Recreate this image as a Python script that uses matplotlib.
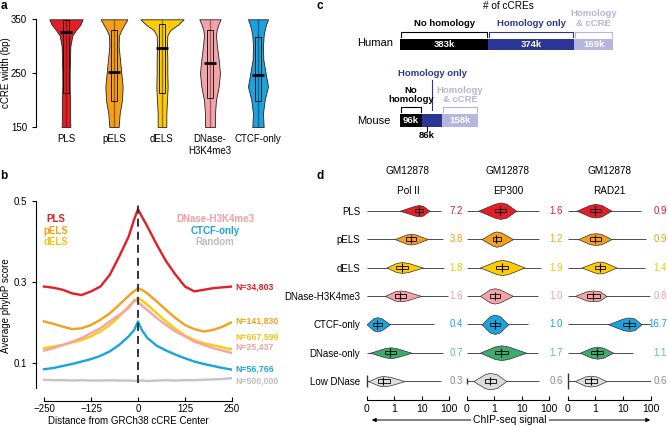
import matplotlib
matplotlib.use("Agg")
import matplotlib.pyplot as plt
from matplotlib.patches import FancyArrowPatch
from matplotlib.ticker import NullLocator
import numpy as np

plt.rcParams['font.family'] = ['Liberation Sans', 'DejaVu Sans']
plt.rcParams['font.size'] = 6.5

W, H = 668, 426

# ---------------- panel a : cCRE width violins ----------------
A_CATS = ['PLS', 'pELS', 'dELS', 'DNase-\nH3K4me3', 'CTCF-only']
A_COLORS = ['#e41e26', '#f6a01a', '#ffcb05', '#f4a3a8', '#1ba3df']
A_STEM = ['#8c1a1a', '#9c5a12', '#8c7a10', '#a06066', '#1e5e85']
A_LEVELS = [150, 175, 200, 225, 250, 275, 300, 320, 330, 340, 350]
# half widths (3x zoom pixels)
A_PLS = [13, 12, 12, 11, 11, 12, 13, 19, 30, 43, 50]
A_PELS = [14, 17, 24, 26, 22, 18, 14, 15, 22, 31, 40]
A_DELS = [13, 13, 15, 17, 16, 16, 15, 16, 25, 48, 65]
A_DNASE = [15, 15, 18, 26, 30, 26, 21, 18, 20, 25, 32]
A_CTCF = [17, 15, 20, 30, 23, 16, 15, 17, 20, 24, 30]
A_Q1 = [214, 198, 214, 204, 198]
A_Q3 = [348, 331, 341, 331, 318]
A_MED = [326, 253, 297, 269, 246]

# ---------------- panel b : phyloP profiles ----------------
B_POS = [-250, -225, -200, -175, -150, -125, -100, -75, -50, -25, -10, 0, 10,
         25, 50, 75, 100, 125, 150, 175, 200, 225, 250]
B_PLS = [0.289, 0.286, 0.281, 0.272, 0.268, 0.277, 0.289, 0.318, 0.363, 0.412, 0.455, 0.480,
         0.462, 0.437, 0.392, 0.351, 0.318, 0.289, 0.277, 0.281, 0.285, 0.287, 0.289]
B_PELS = [0.203, 0.197, 0.190, 0.184, 0.186, 0.194, 0.207, 0.223, 0.244, 0.266, 0.278, 0.285,
          0.281, 0.272, 0.252, 0.231, 0.211, 0.194, 0.184, 0.178, 0.182, 0.190, 0.201]
B_DELS = [0.137, 0.141, 0.145, 0.151, 0.157, 0.166, 0.178, 0.194, 0.215, 0.240, 0.252, 0.260,
          0.255, 0.244, 0.223, 0.203, 0.184, 0.168, 0.157, 0.149, 0.144, 0.139, 0.134]
B_DNASE = [0.131, 0.137, 0.145, 0.153, 0.162, 0.174, 0.186, 0.203, 0.219, 0.236, 0.256, 0.252,
           0.242, 0.231, 0.211, 0.194, 0.178, 0.166, 0.153, 0.145, 0.137, 0.131, 0.125]
B_CTCF = [0.085, 0.088, 0.093, 0.098, 0.104, 0.110, 0.118, 0.129, 0.145, 0.166, 0.182, 0.203,
          0.182, 0.162, 0.143, 0.131, 0.121, 0.112, 0.104, 0.098, 0.093, 0.088, 0.084]
B_RANDOM = [0.059, 0.058, 0.058, 0.057, 0.058, 0.057, 0.057, 0.058, 0.057, 0.057, 0.056, 0.057,
            0.057, 0.056, 0.057, 0.058, 0.057, 0.058, 0.058, 0.059, 0.060, 0.061, 0.063]
B_N = ['N=34,803', 'N=141,830', 'N=667,599', 'N=25,437', 'N=56,766', 'N=500,000']
B_N_Y = [0.289, 0.203, 0.164, 0.140, 0.086, 0.057]

# ---------------- panel c : homology bars ----------------
HUMAN_K = [383, 374, 169]
MOUSE_K = [96, 86, 158]
C_COLORS = ['black', '#2b3595', '#b5b5dd']

# ---------------- panel d : ChIP-seq violins ----------------
D_ROWS = ['PLS', 'pELS', 'dELS', 'DNase-H3K4me3', 'CTCF-only', 'DNase-only', 'Low DNase']
D_COLORS = ['#e41e26', '#f6a01a', '#ffcb05', '#f4a3a8', '#1ba3df', '#3daa6e', '#dddddd']
D_TEXT = ['#e41e26', '#f6a01a', '#f2c40f', '#f0a0a5', '#1ba3df', '#5fbf95', '#8c8c8c']
D_COLS = ['Pol II', 'EP300', 'RAD21']

POL2_LO = [1.58, 1.05, 0.72, 0.66, 0.0, 0.12, 0.06]
POL2_Q1 = [5.5, 2.75, 1.2, 1.05, 0.24, 0.66, 0.42]
POL2_MED = [7.7, 4.0, 1.9, 1.66, 0.38, 0.86, 0.6]
POL2_Q3 = [11, 6.0, 3.2, 2.75, 0.54, 1.2, 0.84]
POL2_HI = [19, 16.6, 11, 9.5, 0.84, 4.2, 2.4]
POL2_MAX = [50, 58, 66, 87, 29, 58, 50]
POL2_HH = [0.2, 0.19, 0.19, 0.19, 0.25, 0.19, 0.18]
POL2_LABEL = ['7.2', '3.8', '1.8', '1.6', '0.4', '0.7', '0.3']

EP300_LO = [0.42, 0.54, 0.48, 0.48, 0.54, 0.48, 0.24]
EP300_Q1 = [1.05, 0.94, 1.2, 0.84, 0.84, 1.05, 0.66]
EP300_MED = [1.68, 1.2, 1.93, 1.05, 1.05, 1.8, 0.84]
EP300_Q3 = [2.75, 1.82, 3.2, 1.58, 1.58, 3.2, 1.2]
EP300_HI = [6.3, 4.8, 12.6, 4.8, 3.2, 14.5, 2.75]
EP300_MAX = [44, 44, 50, 38, 16.6, 38, 44]
EP300_HH = [0.29, 0.27, 0.27, 0.27, 0.34, 0.26, 0.29]
EP300_LABEL = ['1.6', '1.2', '1.9', '1.0', '1.0', '1.7', '0.6']

RAD21_LO = [0.32, 0.38, 0.5, 0.26, 2.9, 0.44, 0.26]
RAD21_Q1 = [0.8, 0.8, 0.98, 0.68, 10, 0.86, 0.62]
RAD21_MED = [1.0, 1.0, 1.45, 0.92, 16.6, 1.17, 0.83]
RAD21_Q3 = [1.66, 1.66, 2.2, 1.45, 26, 1.9, 1.1]
RAD21_HI = [3.8, 3.8, 5.8, 2.5, 46, 4.4, 2.5]
RAD21_MAX = [46, 69, 60, 91, 100, 23, 100]
RAD21_HH = [0.24, 0.21, 0.21, 0.19, 0.24, 0.21, 0.19]
RAD21_LABEL = ['0.9', '0.9', '1.4', '0.8', '16.7', '1.1', '0.6']

ZERO_SPIKE = [0.21, 0.1, 0.28]   # spike of zeros for Low DNase
D_SHAPE = [0, 0.85, 1, 0.85, 0]  # lo, q1, med, q3, hi


fig = plt.figure(figsize=(6.68, 4.26), dpi=100)


def px_axes(l, t, r, b):
    return fig.add_axes([l / W, 1 - b / H, (r - l) / W, (b - t) / H])


def ftext(x, y, s, **kw):
    fig.text(x / W, 1 - y / H, s, **kw)


def style_spines(ax, keep):
    for s in ['left', 'right', 'top', 'bottom']:
        ax.spines[s].set_visible(s in keep)
        ax.spines[s].set_linewidth(0.8)


# panel letters
for lab, x, y in [('a', 4, 6), ('b', 4, 176), ('c', 320, 6), ('d', 320, 176)]:
    ftext(x, y, lab, fontsize=8.5, fontweight='bold', ha='center', va='center')

# ===== panel a =====
ax = px_axes(36, 19.3, 290, 127)
a_dens = [A_PLS, A_PELS, A_DELS, A_DNASE, A_CTCF]
pos = np.arange(1, 6)
stats = [dict(coords=A_LEVELS, vals=d, mean=m, median=m, min=150, max=350)
         for d, m in zip(a_dens, A_MED)]
# 144 = 3 (zoom factor) * 48 (pixels per category)
parts = ax.violin(stats, positions=pos, widths=[2 * max(d) / 144 for d in a_dens],
                  showextrema=False)
for body, c in zip(parts['bodies'], A_COLORS):
    body.set_facecolor(c)
    body.set_edgecolor('#222222')
    body.set_linewidth(0.6)
    body.set_alpha(1)
ax.vlines(pos, 150, 350, colors=A_STEM, lw=1.0, zorder=3)
ax.bar(pos, np.subtract(A_Q3, A_Q1), bottom=A_Q1, width=0.11, fill=False,
       edgecolor='k', lw=0.6, zorder=4)
ax.hlines(A_MED, pos - 0.12, pos + 0.12, color='k', lw=2, zorder=5)
ax.set_xlim(0.375, 5.667)
ax.set_ylim(150, 350)
ax.set_yticks([150, 250, 350])
ax.set_xticks(pos, A_CATS)
ax.tick_params(axis='x', length=0, pad=5, labelsize=7)
ax.tick_params(axis='y', direction='out', length=3, width=0.8, labelsize=7)
style_spines(ax, ['left'])
ftext(6, 73, 'cCRE width (bp)', rotation=90, ha='center', va='center', fontsize=7)

# ===== panel b =====
ax = px_axes(36, 201, 232, 388)
ax.plot(B_POS, B_RANDOM, color='#c4c4c4', lw=1.7)
ax.plot(B_POS, B_CTCF, color='#1ba3df', lw=1.7)
ax.plot(B_POS, B_DELS, color='#ffcb05', lw=1.7)
ax.plot(B_POS, B_DNASE, color='#f4a3a8', lw=1.7)
ax.plot(B_POS, B_PELS, color='#f6a01a', lw=1.7)
ax.plot(B_POS, B_PLS, color='#e41e26', lw=1.7)
ax.axvline(0, ymin=0.025, ymax=1, color='#333333', lw=1.4, dashes=(4.1, 2.6))
ax.set_xlim(-271.3, 250)
ax.set_ylim(0.0387, 0.5)
ax.set_yticks([0.1, 0.3, 0.5], ['0.1', '0.3', '0.5'])
ax.set_xticks([-250, -125, 0, 125, 250])
style_spines(ax, ['left', 'bottom'])
ax.spines['bottom'].set_position(('outward', 9.4))
ax.spines['bottom'].set_bounds(-250, 250)
ax.tick_params(axis='y', direction='out', length=3, width=0.8, labelsize=7)
ax.tick_params(axis='x', direction='in', length=3, width=0.8, labelsize=7, pad=2)
b_colors = ['#e41e26', '#f6a01a', '#f2c40f', '#f0a0a5', '#1ba3df', '#bdbdbd']
for txt, y, c in zip(B_N, B_N_Y, b_colors):
    ax.text(258, y, txt, color=c, fontsize=6.3, fontweight='bold', ha='left', va='center')
for txt, y, c in zip(['PLS', 'pELS', 'dELS'], [0.455, 0.427, 0.400], b_colors[:3]):
    ax.text(-218, y, txt, color=c, fontsize=7, fontweight='bold', ha='center', va='center')
for txt, y, c in zip(['DNase-H3K4me3', 'CTCF-only', 'Random'], [0.455, 0.427, 0.400],
                     b_colors[3:]):
    ax.text(205, y, txt, color=c, fontsize=7, fontweight='bold', ha='center', va='center')
ftext(6, 306, 'Average phyloP score', rotation=90, ha='center', va='center', fontsize=7)
ftext(128, 421, 'Distance from GRCh38 cCRE Center', ha='center', va='center', fontsize=7)

# ===== panel c =====
ax = px_axes(340, 0, 668, 190)
ax.axis('off')
ax.set_xlim(-260.9, 1165.2)
ax.set_ylim(190, 0)
h_left = np.concatenate([[0], np.cumsum(HUMAN_K)[:-1]])
m_left = np.concatenate([[0], np.cumsum(MOUSE_K)[:-1]])
ax.barh([44.7] * 3, HUMAN_K, left=h_left, height=10.7, color=C_COLORS)
ax.barh([120.5] * 3, MOUSE_K, left=m_left, height=12.4, color=C_COLORS)
for l, v, c in zip(h_left, HUMAN_K, C_COLORS):
    ax.plot([l + 4, l + 4, l + v - 4, l + v - 4], [36.7, 31.7, 31.7, 36.7], color=c, lw=0.8)
    ax.text(l + v / 2, 44.7, f'{v}k', color='white', fontweight='bold', fontsize=6.8,
            ha='center', va='center')
for i in [0, 2]:
    l, v = m_left[i], MOUSE_K[i]
    ax.plot([l + 4, l + 4, l + v - 4, l + v - 4], [112.3, 106.7, 106.7, 112.3],
            color=C_COLORS[i], lw=0.8)
    ax.text(l + v / 2, 120.5, f'{v}k', color='white', fontweight='bold', fontsize=6.8,
            ha='center', va='center')
blue_mid = m_left[1] + MOUSE_K[1] / 2
ax.plot([blue_mid, blue_mid], [80, 110], color=C_COLORS[1], lw=0.8)
x86 = m_left[1] + MOUSE_K[1] / 4
ax.plot([x86, x86], [126, 131], color='k', lw=0.7)
ax.text(x86, 135, f'{MOUSE_K[1]}k', color='k', fontweight='bold', fontsize=6.8,
        ha='center', va='center')
ax.text(h_left[0] + HUMAN_K[0] / 2, 23, 'No homology', fontweight='bold', fontsize=6.8,
        ha='center', va='center', color='black')
ax.text(h_left[1] + HUMAN_K[1] / 2, 23, 'Homology only', fontweight='bold', fontsize=6.8,
        ha='center', va='center', color=C_COLORS[1])
ax.text(h_left[2] + HUMAN_K[2] / 2, 18.5, 'Homology\n& cCRE', fontweight='bold', fontsize=6.8,
        ha='center', va='center', color=C_COLORS[2], linespacing=1.1)
ax.text(blue_mid, 74, 'Homology only', fontweight='bold', fontsize=6.8,
        ha='center', va='center', color=C_COLORS[1])
ax.text(m_left[0] + MOUSE_K[0] / 2, 95, 'No\nhomology', fontweight='bold', fontsize=6.8,
        ha='center', va='center', color='black', linespacing=1.0)
ax.text(m_left[2] + MOUSE_K[2] / 2, 95, 'Homology\n& cCRE', fontweight='bold', fontsize=6.8,
        ha='center', va='center', color=C_COLORS[2], linespacing=1.0)
ax.text(-187, 43, 'Human', fontsize=8, ha='left', va='center')
ax.text(-187, 121, 'Mouse', fontsize=8, ha='left', va='center')
ax.text(470, 6, '# of cCREs', fontsize=7.2, ha='center', va='center')

# ===== panel d =====
d_sets = [
    (POL2_LO, POL2_Q1, POL2_MED, POL2_Q3, POL2_HI, POL2_MAX, POL2_HH, POL2_LABEL),
    (EP300_LO, EP300_Q1, EP300_MED, EP300_Q3, EP300_HI, EP300_MAX, EP300_HH, EP300_LABEL),
    (RAD21_LO, RAD21_Q1, RAD21_MED, RAD21_Q3, RAD21_HI, RAD21_MAX, RAD21_HH, RAD21_LABEL),
]
col_lr = [(366.7, 449.3), (466.7, 549.3), (567.7, 650.7)]
lab_off = [13.7, 13.7, 16.3]
rows = np.arange(7)
for ci, (lo, q1, med, q3, hi, mx, hh, lbl) in enumerate(d_sets):
    l, r = col_lr[ci]
    ax = px_axes(l, 198, r, 400)
    ax.set_xscale('symlog', linthresh=1, linscale=0.9)
    ax.set_xlim(0, 100)
    ax.set_ylim(6.665, -0.447)
    ax.hlines(rows, 0, mx, color='0.3', lw=0.7, zorder=1)
    stats = [dict(coords=[lo[i], q1[i], med[i], q3[i], hi[i]], vals=D_SHAPE,
                  mean=med[i], median=med[i], min=lo[i], max=hi[i]) for i in rows]
    parts = ax.violin(stats, positions=rows, widths=[2 * h for h in hh],
                      orientation='horizontal', showextrema=False)
    for body, c in zip(parts['bodies'], D_COLORS):
        body.set_facecolor(c)
        body.set_edgecolor('#333333')
        body.set_linewidth(0.5)
        body.set_alpha(1)
        body.set_zorder(2)
    ax.barh(rows, np.subtract(q3, q1), left=q1, height=0.12, fill=False,
            edgecolor='k', lw=0.6, zorder=3)
    ax.vlines(med, rows - 0.15, rows + 0.15, color='k', lw=0.8, zorder=4)
    ax.vlines(0, 6 - ZERO_SPIKE[ci], 6 + ZERO_SPIKE[ci], color='0.2', lw=1.0,
              zorder=4, clip_on=False)
    for i in rows:
        ax.annotate(lbl[i], xy=(1, i), xycoords=('axes fraction', 'data'),
                    xytext=(lab_off[ci], 0), textcoords='offset pixels',
                    ha='right', va='center', color=D_TEXT[i], fontsize=7)
    ax.set_xticks([0, 1, 10, 100], ['0', '1', '10', '100'])
    ax.xaxis.set_minor_locator(NullLocator())
    ax.tick_params(axis='x', direction='in', length=3, width=0.8, labelsize=7.5, pad=3)
    if ci == 0:
        ax.set_yticks(rows, D_ROWS)
        ax.tick_params(axis='y', length=0, pad=4.8, labelsize=7)
    else:
        ax.set_yticks([])
    style_spines(ax, ['bottom'])
    cx = (l + r) / 2
    ftext(cx, 171, 'GM12878', ha='center', va='center', fontsize=7.2)
    ftext(cx, 191, D_COLS[ci], ha='center', va='center', fontsize=7.2)

arrow = FancyArrowPatch((369 / W, 1 - 420 / H), (653 / W, 1 - 420 / H),
                        transform=fig.transFigure, arrowstyle='<|-|>',
                        mutation_scale=6, lw=0.7, color='k')
fig.add_artist(arrow)
ftext(510, 420, 'ChIP-seq signal', ha='center', va='center', fontsize=7.5,
      bbox=dict(facecolor='white', edgecolor='none', pad=1.5), zorder=5)

fig.savefig('out.png', dpi=100)
